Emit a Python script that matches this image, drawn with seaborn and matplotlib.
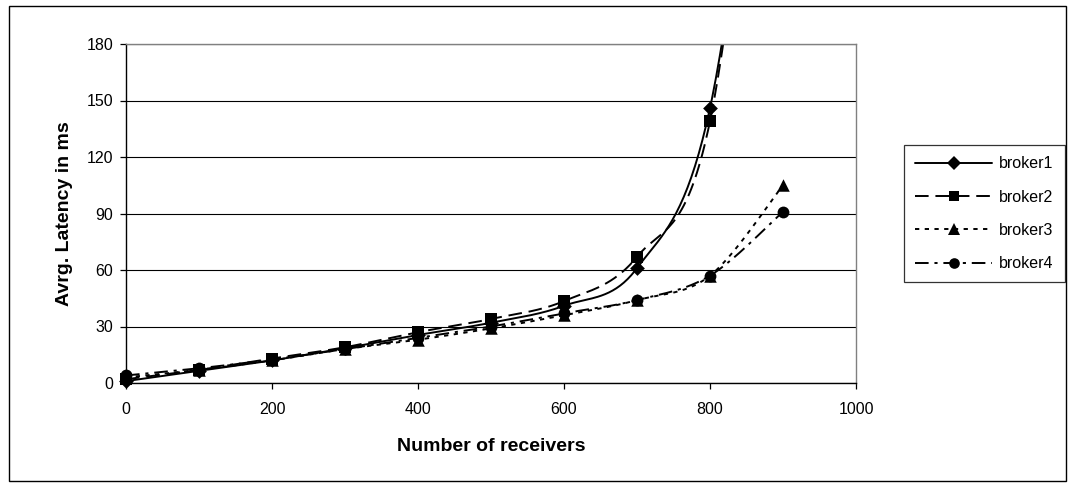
import numpy as np
import pandas as pd
import matplotlib
matplotlib.use("Agg")
import matplotlib.pyplot as plt
import seaborn as sns
from matplotlib.lines import Line2D
from matplotlib.patches import Rectangle

# ---- data ----
receivers = [0, 100, 200, 300, 400, 500, 600, 700, 800, 900]
broker1 = [1.0, 6.5, 12.0, 18.5, 25.5, 32.0, 41.0, 61.0, 146.0, 420.0]
broker2 = [2.0, 7.0, 13.0, 19.0, 27.0, 34.0, 43.5, 67.0, 139.0, 440.0]
broker3 = [3.0, 7.0, 12.0, 18.0, 23.0, 29.0, 36.0, 44.0, 57.0, 105.0]
broker4 = [4.0, 7.8, 12.5, 18.0, 24.0, 30.0, 37.0, 44.0, 57.0, 91.0]
series_names = ["broker1", "broker2", "broker3", "broker4"]
x_ticks = [0, 200, 400, 600, 800, 1000]
y_ticks = [0, 30, 60, 90, 120, 150, 180]

# ---- styles ----
styles = {
    "broker1": dict(ls="-", marker="D", ms=7.5),
    "broker2": dict(ls=(0, (7, 3.5)), marker="s", ms=8),
    "broker3": dict(ls=(0, (2.2, 2.8)), marker="^", ms=9),
    "broker4": dict(ls=(0, (7, 3, 1.6, 3)), marker="o", ms=8.5),
}


def smooth_curve(xs, ys, n=40):
    """Excel-like smoothed line (cubic Bezier through the points)."""
    P = np.column_stack([xs, ys]).astype(float)
    m = len(P)
    out = []
    for i in range(m - 1):
        p0, p3 = P[i], P[i + 1]
        pm = P[i - 1] if i > 0 else P[i]
        pp = P[i + 2] if i + 2 < m else P[i + 1]
        c1 = p0 + (p3 - pm) / 6.0
        c2 = p3 - (pp - p0) / 6.0
        t = np.linspace(0, 1, n)[:, None]
        seg = ((1 - t) ** 3) * p0 + 3 * ((1 - t) ** 2) * t * c1 + 3 * (1 - t) * t ** 2 * c2 + t ** 3 * p3
        out.append(seg if i == 0 else seg[1:])
    c = np.vstack(out)
    return c[:, 0], c[:, 1]


sns.set_theme(style="white")
plt.rcParams["font.family"] = ["Liberation Sans", "DejaVu Sans"]

fig = plt.figure(figsize=(10.73, 4.87), dpi=100)
ax = fig.add_axes([126 / 1073, 1 - 383 / 487, 730 / 1073, 339 / 487])

data = {"broker1": broker1, "broker2": broker2, "broker3": broker3, "broker4": broker4}
for name in series_names:
    vals = data[name]
    xs_s, ys_s = smooth_curve(receivers, vals)
    st = styles[name]
    sns.lineplot(x=xs_s, y=ys_s, sort=False, estimator=None, ax=ax, color="black",
                 linewidth=1.4, linestyle=st["ls"], legend=False)
    df = pd.DataFrame({"x": receivers, "y": vals})
    df = df[df["y"] <= 182]
    sns.scatterplot(data=df, x="x", y="y", ax=ax, color="black", marker=st["marker"],
                    s=st["ms"] ** 2, edgecolor="black", linewidth=0, legend=False,
                    clip_on=False, zorder=5)

ax.set_xlim(0, 1000)
ax.set_ylim(0, 180)
ax.set_xticks(x_ticks)
ax.set_yticks(y_ticks)
ax.set_xticklabels([str(v) for v in x_ticks], fontsize=11.5, color="black")
ax.set_yticklabels([str(v) for v in y_ticks], fontsize=11.5, color="black")
ax.tick_params(axis="both", which="both", direction="out", length=4, width=0.9,
               color="black", pad=5, bottom=True, left=True)
ax.tick_params(axis="x", pad=10)
ax.grid(axis="y", color="black", linewidth=0.8)
ax.grid(axis="x", visible=False)
ax.set_axisbelow(True)
for side in ["top", "right"]:
    ax.spines[side].set_color("#808080")
    ax.spines[side].set_linewidth(1.0)
for side in ["left", "bottom"]:
    ax.spines[side].set_color("black")
    ax.spines[side].set_linewidth(1.0)

ax.set_xlabel("Number of receivers", fontsize=14, fontweight="bold", labelpad=15, color="black")
ax.set_ylabel("Avrg. Latency in ms", fontsize=14, fontweight="bold", labelpad=10, color="black")

handles = []
for name in series_names:
    st = styles[name]
    handles.append(Line2D([0], [0], color="black", linewidth=1.4, linestyle=st["ls"],
                          marker=st["marker"], markersize=st["ms"] * 0.9, markerfacecolor="black",
                          markeredgewidth=0))
leg = fig.legend(handles, series_names, loc="upper left",
                 bbox_to_anchor=(904 / 1073, 1 - 145 / 487), fontsize=11.5,
                 frameon=True, fancybox=False, handlelength=4.8, handletextpad=0.45,
                 labelspacing=1.15, borderpad=0.7, borderaxespad=0)
leg.get_frame().set_edgecolor("black")
leg.get_frame().set_linewidth(0.9)
for t in leg.get_texts():
    t.set_color("black")

fig.patches.append(Rectangle((9 / 1073, 6 / 487), 1057 / 1073, 475 / 487, transform=fig.transFigure,
                             fill=False, edgecolor="black", linewidth=1.0))

fig.savefig("out.png", dpi=100)
